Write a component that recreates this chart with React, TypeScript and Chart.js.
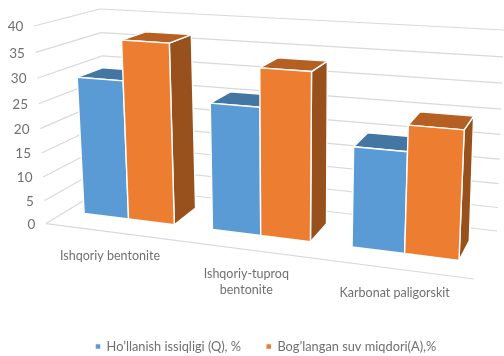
import React, { useEffect, useRef } from "react";
import { Chart, registerables } from "chart.js";

Chart.register(...registerables);

const categories = ["Ishqoriy bentonite", ["Ishqoriy-tuproq", "bentonite"], "Karbonat paligorskit"];
const heatValues = [29, 26, 20];
const waterValues = [37, 33.5, 25];
const seriesNames = ["Ho\u2019llanish issiqligi (Q), %", "Bog\u2019langan suv miqdori(A),%"];

const FONT = "Lato";
const TEXT = "#707070";
const GRID = "#d9d9d9";

type Pt = [number, number];
// screen corners of the 3D box: f=front b=back, l=left r=right, 0=floor 1=top
const C = {
  fl0: [46, 223.6] as Pt, fl1: [34, 26] as Pt,
  fr0: [474, 279] as Pt, fr1: [485, 55] as Pt,
  bl0: [108, 186] as Pt, bl1: [100, 9] as Pt,
  br0: [497, 231] as Pt, br1: [504, 30] as Pt,
};
const warp = (t: number, k: number) => t / (t + (1 - t) * k);
const lerp = (a: Pt, b: Pt, t: number): Pt => [a[0] + (b[0] - a[0]) * t, a[1] + (b[1] - a[1]) * t];
const project = (t: number, v: number, w: number): Pt => {
  const s = warp(t, 1.137);
  const h = warp(w, 1.08);
  const f0 = lerp(C.fl0, C.fr0, s), f1 = lerp(C.fl1, C.fr1, s);
  const b0 = lerp(C.bl0, C.br0, s), b1 = lerp(C.bl1, C.br1, s);
  return lerp(lerp(f0, b0, v), lerp(f1, b1, v), h);
};
const V0 = 0.33, V1 = 0.74;

const poly = (ctx: CanvasRenderingContext2D, pts: Pt[], fill: string) => {
  ctx.beginPath();
  pts.forEach((p, i) => (i ? ctx.lineTo(p[0], p[1]) : ctx.moveTo(p[0], p[1])));
  ctx.closePath();
  ctx.fillStyle = fill;
  ctx.fill();
  ctx.lineWidth = 1.4;
  ctx.strokeStyle = "#ffffff";
  ctx.lineJoin = "round";
  ctx.stroke();
};
const line = (ctx: CanvasRenderingContext2D, a: Pt, b: Pt) => {
  ctx.beginPath();
  ctx.moveTo(a[0], a[1]);
  ctx.lineTo(b[0], b[1]);
  ctx.stroke();
};

const shades = [
  { front: "#5b9bd5", top: "#4476a3", side: "#3f6e99" },
  { front: "#ed7d31", top: "#b55f23", side: "#98501c" },
];

const bars3d = {
  id: "bars3d",
  beforeDraw(chart: any) {
    chart.legend.top = 314.5;
  },
  beforeDatasetsDraw(chart: any) {
    const ctx: CanvasRenderingContext2D = chart.ctx;
    const xs = chart.scales.x, ys = chart.scales.y;
    const tOf = (px: number) => (px - xs.left) / (xs.right - xs.left);
    const wOf = (px: number) => (ys.bottom - px) / (ys.bottom - ys.top);
    ctx.save();
    // walls and floor
    ctx.strokeStyle = GRID;
    ctx.lineWidth = 1.2;
    ys.ticks.forEach((tick: any) => {
      const w = wOf(ys.getPixelForValue(tick.value));
      line(ctx, project(0, 0, w), project(0, 1, w));
      line(ctx, project(0, 1, w), project(1, 1, w));
      const p = project(0, 0, w);
      ctx.fillStyle = TEXT;
      ctx.font = `13.5px ${FONT}`;
      ctx.textAlign = "right";
      ctx.textBaseline = "middle";
      ctx.fillText(String(tick.value), p[0] - 10.7, p[1] + 0.8);
    });
    line(ctx, project(0, 0, 0), project(1, 0, 0));
    // category labels
    ctx.fillStyle = TEXT;
    ctx.font = `12.5px ${FONT}`;
    ctx.textAlign = "center";
    ctx.textBaseline = "middle";
    chart.data.labels.forEach((label: any, i: number) => {
      const p = project(tOf(xs.getPixelForTick(i)), 0, 0);
      const rows = Array.isArray(label) ? label : [label];
      rows.forEach((r: string, j: number) => ctx.fillText(r, p[0], p[1] + 24 + j * 16));
    });
    // bars
    const metas = chart.data.datasets.map((_: any, i: number) => chart.getDatasetMeta(i));
    chart.data.labels.forEach((_: any, c: number) => {
      metas.forEach((meta: any, d: number) => {
        const el = meta.data[c];
        const t0 = tOf(el.x - el.width / 2), t1 = tOf(el.x + el.width / 2);
        const w = wOf(el.y);
        const col = shades[d];
        poly(ctx, [project(t1, V0, 0), project(t1, V1, 0), project(t1, V1, w), project(t1, V0, w)], col.side);
        poly(ctx, [project(t0, V0, w), project(t1, V0, w), project(t1, V1, w), project(t0, V1, w)], col.top);
        poly(ctx, [project(t0, V0, 0), project(t1, V0, 0), project(t1, V0, w), project(t0, V0, w)], col.front);
      });
    });
    ctx.restore();
    return false;
  },
};

export default function App() {
  const ref = useRef<HTMLCanvasElement>(null);
  useEffect(() => {
    document.body.style.margin = "0";
    const chart = new Chart(ref.current as HTMLCanvasElement, {
      type: "bar",
      data: {
        labels: categories as any,
        datasets: [
          { label: seriesNames[0], data: heatValues, backgroundColor: shades[0].front },
          { label: seriesNames[1], data: waterValues, backgroundColor: shades[1].front },
        ],
      },
      options: {
        responsive: false,
        animation: false,
        layout: { padding: { left: 28 } },
        datasets: { bar: { categoryPercentage: 0.711, barPercentage: 1 } },
        scales: {
          x: { grid: { display: false }, border: { display: false }, ticks: { display: false } },
          y: {
            min: 0,
            max: 40,
            grid: { display: false },
            border: { display: false },
            ticks: { display: false, stepSize: 5 },
          },
        },
        plugins: {
          title: { display: false },
          tooltip: { enabled: false },
          legend: {
            position: "bottom",
            labels: {
              boxWidth: 4.5,
              boxHeight: 4.5,
              padding: 25.5,
              color: TEXT,
              font: { family: FONT, size: 12.8 },
            },
          },
        },
      } as any,
      plugins: [bars3d as any],
    });
    return () => chart.destroy();
  }, []);
  return <canvas ref={ref} width={504} height={356} style={{ display: "block" }} />;
}
